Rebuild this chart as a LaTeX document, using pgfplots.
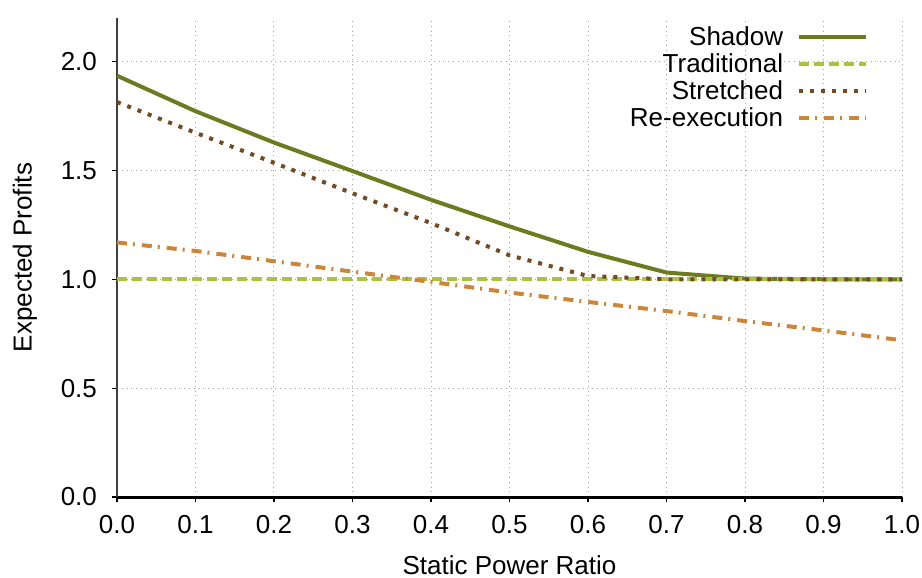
\documentclass[border=0pt]{standalone}
\usepackage{fontspec}
\setmainfont{Liberation Sans}
\usepackage{pgfplots}
\pgfplotsset{compat=1.18}
\definecolor{cShadow}{HTML}{6B7B1E}
\definecolor{cTrad}{HTML}{A9C23F}
\definecolor{cStretch}{HTML}{744A1F}
\definecolor{cReexec}{HTML}{CD8638}
\begin{document}
\begin{tikzpicture}
\begin{axis}[
  scale only axis,
  width=392.5pt, height=239.5pt,
  xmin=0, xmax=1, ymin=0, ymax=2.2,
  xtick={0,0.1,...,1.0},
  ytick={0,0.5,1.0,1.5,2.0},
  axis x line*=bottom, axis y line*=left,
  x axis line style={line width=1.5pt, black, -},
  y axis line style={line width=1pt, black!75, -},
  tick style={black, line width=0.6pt},
  major tick length=2.5pt,
  tick align=outside,
  grid=major,
  major grid style={dotted, gray!70, line width=0.5pt},
  font=\fontsize{13pt}{15.5pt}\selectfont,
  tick label style={font=\fontsize{13pt}{15.5pt}\selectfont},
  xticklabel style={inner xsep=0pt, /pgf/number format/.cd, fixed, fixed zerofill, precision=1, assume math mode=true},
  yticklabel style={/pgf/number format/.cd, fixed, fixed zerofill, precision=1, assume math mode=true},
  xticklabel shift=3pt, yticklabel shift=4pt,
  xlabel={Static Power Ratio}, ylabel={Expected Profits},
  xlabel style={yshift=-4pt},
  ylabel style={yshift=5pt},
  legend style={draw=none, fill=none, at={(0.965,1.0)}, anchor=north east,
    legend cell align=right, row sep=-1.4pt,
    font=\fontsize{13pt}{14pt}\selectfont},
  legend plot pos=right,
  legend image code/.code={\path (0pt,0pt); \draw[#1] (5pt,0pt) -- (38.5pt,0pt);},
]
\addplot[cShadow, line width=2pt] coordinates {
(0.0,1.935) (0.1,1.772) (0.2,1.628) (0.3,1.497) (0.4,1.365) (0.5,1.243) (0.6,1.126) (0.7,1.031) (0.8,1.003) (0.9,1.0) (1.0,1.0)};
\addlegendentry{Shadow}
\addplot[cTrad, line width=2pt, dash pattern=on 5pt off 2.5pt] coordinates {
(0.0,1.0) (0.1,1.0) (0.2,1.0) (0.3,1.0) (0.4,1.0) (0.5,1.0) (0.6,1.0) (0.7,1.0) (0.8,1.0) (0.9,1.0) (1.0,1.0)};
\addlegendentry{Traditional}
\addplot[cStretch, line width=2pt, dash pattern=on 2pt off 3.5pt] coordinates {
(0.0,1.814) (0.1,1.673) (0.2,1.535) (0.3,1.395) (0.4,1.258) (0.5,1.11) (0.6,1.015) (0.7,1.0) (0.8,1.0) (0.9,1.0) (1.0,1.0)};
\addlegendentry{Stretched}
\addplot[cReexec, line width=2pt, dash pattern=on 5pt off 3pt on 1pt off 3.5pt] coordinates {
(0.0,1.169) (0.1,1.13) (0.2,1.083) (0.3,1.035) (0.4,0.988) (0.5,0.939) (0.6,0.896) (0.7,0.854) (0.8,0.808) (0.9,0.765) (1.0,0.72)};
\addlegendentry{Re-execution}
\end{axis}
\pgfresetboundingbox
\path ([xshift=-58.5pt,yshift=-40.5pt]current axis.south west) rectangle ([xshift=10pt,yshift=9pt]current axis.north east);
\end{tikzpicture}
\end{document}
